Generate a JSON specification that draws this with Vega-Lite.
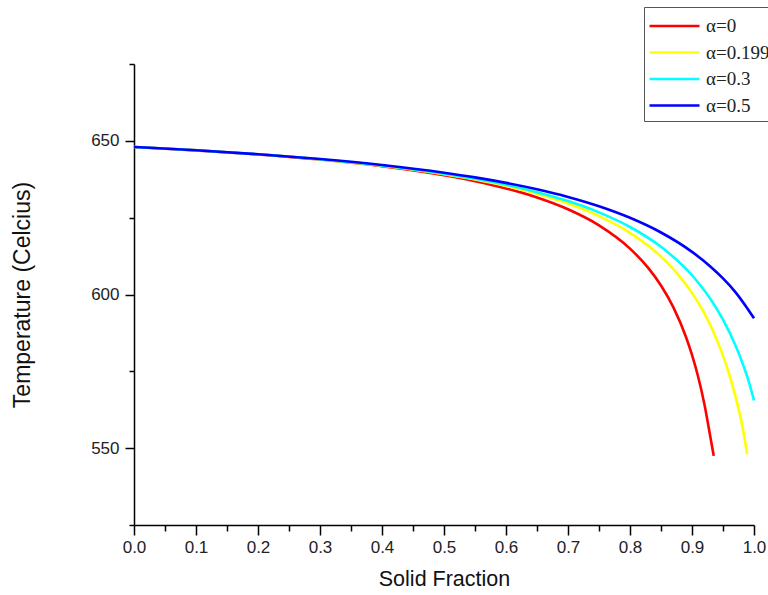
{
  "$schema": "https://vega.github.io/schema/vega-lite/v6.json",
  "width": 620,
  "height": 461,
  "autosize": {"type": "none"},
  "padding": {"left": 134, "top": 64, "right": 14, "bottom": 70},
  "background": "white",
  "config": {
    "view": {"stroke": null},
    "axis": {
      "grid": false,
      "domainColor": "#000000",
      "domainWidth": 1.5,
      "tickColor": "#000000",
      "tickWidth": 1.5,
      "labelFont": "Liberation Sans",
      "labelFontSize": 17,
      "labelColor": "#222222",
      "labelFlush": false,
      "titleFont": "Liberation Sans",
      "titleFontWeight": "normal",
      "titleColor": "#111111"
    }
  },
  "data": {
    "values": [
      {"fs": 0.0, "T": 648.0, "series": "α=0"},
      {"fs": 0.1, "T": 646.91, "series": "α=0"},
      {"fs": 0.2, "T": 645.58, "series": "α=0"},
      {"fs": 0.3, "T": 643.91, "series": "α=0"},
      {"fs": 0.4, "T": 641.74, "series": "α=0"},
      {"fs": 0.5, "T": 638.79, "series": "α=0"},
      {"fs": 0.55, "T": 636.87, "series": "α=0"},
      {"fs": 0.6, "T": 634.51, "series": "α=0"},
      {"fs": 0.65, "T": 631.56, "series": "α=0"},
      {"fs": 0.7, "T": 627.72, "series": "α=0"},
      {"fs": 0.75, "T": 622.5, "series": "α=0"},
      {"fs": 0.8, "T": 614.94, "series": "α=0"},
      {"fs": 0.83, "T": 608.5, "series": "α=0"},
      {"fs": 0.85, "T": 602.92, "series": "α=0"},
      {"fs": 0.87, "T": 595.8, "series": "α=0"},
      {"fs": 0.89, "T": 586.35, "series": "α=0"},
      {"fs": 0.9, "T": 580.35, "series": "α=0"},
      {"fs": 0.91, "T": 573.14, "series": "α=0"},
      {"fs": 0.92, "T": 564.31, "series": "α=0"},
      {"fs": 0.93, "T": 553.21, "series": "α=0"},
      {"fs": 0.935, "T": 547.5, "series": "α=0"},

      {"fs": 0.0, "T": 648.0, "series": "α=0.199"},
      {"fs": 0.1, "T": 646.92, "series": "α=0.199"},
      {"fs": 0.2, "T": 645.61, "series": "α=0.199"},
      {"fs": 0.3, "T": 643.98, "series": "α=0.199"},
      {"fs": 0.4, "T": 641.9, "series": "α=0.199"},
      {"fs": 0.5, "T": 639.15, "series": "α=0.199"},
      {"fs": 0.55, "T": 637.4, "series": "α=0.199"},
      {"fs": 0.6, "T": 635.31, "series": "α=0.199"},
      {"fs": 0.65, "T": 632.77, "series": "α=0.199"},
      {"fs": 0.7, "T": 629.59, "series": "α=0.199"},
      {"fs": 0.75, "T": 625.5, "series": "α=0.199"},
      {"fs": 0.8, "T": 620.04, "series": "α=0.199"},
      {"fs": 0.85, "T": 612.31, "series": "α=0.199"},
      {"fs": 0.88, "T": 605.92, "series": "α=0.199"},
      {"fs": 0.9, "T": 600.52, "series": "α=0.199"},
      {"fs": 0.92, "T": 593.84, "series": "α=0.199"},
      {"fs": 0.94, "T": 585.31, "series": "α=0.199"},
      {"fs": 0.95, "T": 580.1, "series": "α=0.199"},
      {"fs": 0.96, "T": 574.05, "series": "α=0.199"},
      {"fs": 0.97, "T": 566.93, "series": "α=0.199"},
      {"fs": 0.98, "T": 558.42, "series": "α=0.199"},
      {"fs": 0.989, "T": 548.0, "series": "α=0.199"},

      {"fs": 0.0, "T": 648.0, "series": "α=0.3"},
      {"fs": 0.1, "T": 646.92, "series": "α=0.3"},
      {"fs": 0.2, "T": 645.62, "series": "α=0.3"},
      {"fs": 0.3, "T": 644.01, "series": "α=0.3"},
      {"fs": 0.4, "T": 641.98, "series": "α=0.3"},
      {"fs": 0.5, "T": 639.31, "series": "α=0.3"},
      {"fs": 0.55, "T": 637.65, "series": "α=0.3"},
      {"fs": 0.6, "T": 635.68, "series": "α=0.3"},
      {"fs": 0.65, "T": 633.3, "series": "α=0.3"},
      {"fs": 0.7, "T": 630.39, "series": "α=0.3"},
      {"fs": 0.75, "T": 626.72, "series": "α=0.3"},
      {"fs": 0.8, "T": 621.96, "series": "α=0.3"},
      {"fs": 0.85, "T": 615.51, "series": "α=0.3"},
      {"fs": 0.9, "T": 606.26, "series": "α=0.3"},
      {"fs": 0.93, "T": 598.48, "series": "α=0.3"},
      {"fs": 0.95, "T": 591.84, "series": "α=0.3"},
      {"fs": 0.97, "T": 583.49, "series": "α=0.3"},
      {"fs": 0.98, "T": 578.46, "series": "α=0.3"},
      {"fs": 0.99, "T": 572.68, "series": "α=0.3"},
      {"fs": 1.0, "T": 565.5, "series": "α=0.3"},

      {"fs": 0.0, "T": 648.0, "series": "α=0.5"},
      {"fs": 0.1, "T": 646.93, "series": "α=0.5"},
      {"fs": 0.2, "T": 645.64, "series": "α=0.5"},
      {"fs": 0.3, "T": 644.07, "series": "α=0.5"},
      {"fs": 0.4, "T": 642.12, "series": "α=0.5"},
      {"fs": 0.5, "T": 639.63, "series": "α=0.5"},
      {"fs": 0.55, "T": 638.1, "series": "α=0.5"},
      {"fs": 0.6, "T": 636.32, "series": "α=0.5"},
      {"fs": 0.65, "T": 634.23, "series": "α=0.5"},
      {"fs": 0.7, "T": 631.74, "series": "α=0.5"},
      {"fs": 0.75, "T": 628.71, "series": "α=0.5"},
      {"fs": 0.8, "T": 624.95, "series": "α=0.5"},
      {"fs": 0.85, "T": 620.17, "series": "α=0.5"},
      {"fs": 0.9, "T": 613.88, "series": "α=0.5"},
      {"fs": 0.93, "T": 609.05, "series": "α=0.5"},
      {"fs": 0.95, "T": 605.23, "series": "α=0.5"},
      {"fs": 0.97, "T": 600.79, "series": "α=0.5"},
      {"fs": 1.0, "T": 592.3, "series": "α=0.5"}
    ]
  },
  "layer": [
    {
      "mark": {"type": "line", "strokeWidth": 2.6, "interpolate": "monotone"},
      "encoding": {
        "x": {
          "field": "fs", "type": "quantitative",
          "scale": {"domain": [0, 1], "nice": false, "zero": false},
          "axis": {
            "title": "Solid Fraction",
            "titleFontSize": 21.5,
            "values": [0, 0.1, 0.2, 0.3, 0.4, 0.5, 0.6, 0.7, 0.8, 0.9, 1.0],
            "format": ".1f",
            "tickSize": 10,
            "labelPadding": 4,
            "titlePadding": 13
          }
        },
        "y": {
          "field": "T", "type": "quantitative",
          "scale": {"domain": [525, 675], "nice": false, "zero": false},
          "axis": {
            "title": "Temperature (Celcius)",
            "titleFontSize": 23,
            "values": [550, 600, 650],
            "tickSize": 9,
            "labelPadding": 6,
            "titlePadding": 56
          }
        },
        "color": {
          "field": "series", "type": "nominal",
          "scale": {
            "domain": ["α=0", "α=0.199", "α=0.3", "α=0.5"],
            "range": ["#ff0000", "#ffff00", "#00ffff", "#0000ff"]
          },
          "legend": {
            "orient": "none",
            "legendX": 510,
            "legendY": -57,
            "title": null,
            "symbolType": "M-2,0L2,0",
            "symbolSize": 625,
            "symbolOffset": 11.5,
            "symbolStrokeWidth": 2.6,
            "labelFont": "Liberation Serif",
            "labelFontSize": 19,
            "labelColor": "#222222",
            "labelOffset": 17.5,
            "strokeColor": "#555555",
            "fillColor": "white",
            "padding": 5,
            "rowPadding": 2.5
          }
        }
      }
    },
    {
      "mark": {"type": "point", "opacity": 0},
      "encoding": {
        "x": {
          "field": "fs", "type": "quantitative",
          "axis": {
            "orient": "bottom",
            "title": null,
            "labels": false,
            "domain": false,
            "tickSize": 6,
            "values": [0.05, 0.15, 0.25, 0.35, 0.45, 0.55, 0.65, 0.75, 0.85, 0.95]
          }
        },
        "y": {
          "field": "T", "type": "quantitative",
          "axis": {
            "orient": "left",
            "title": null,
            "labels": false,
            "domain": false,
            "tickSize": 5,
            "values": [525, 575, 625, 675]
          }
        }
      }
    }
  ],
  "resolve": {"axis": {"x": "independent", "y": "independent"}}
}
